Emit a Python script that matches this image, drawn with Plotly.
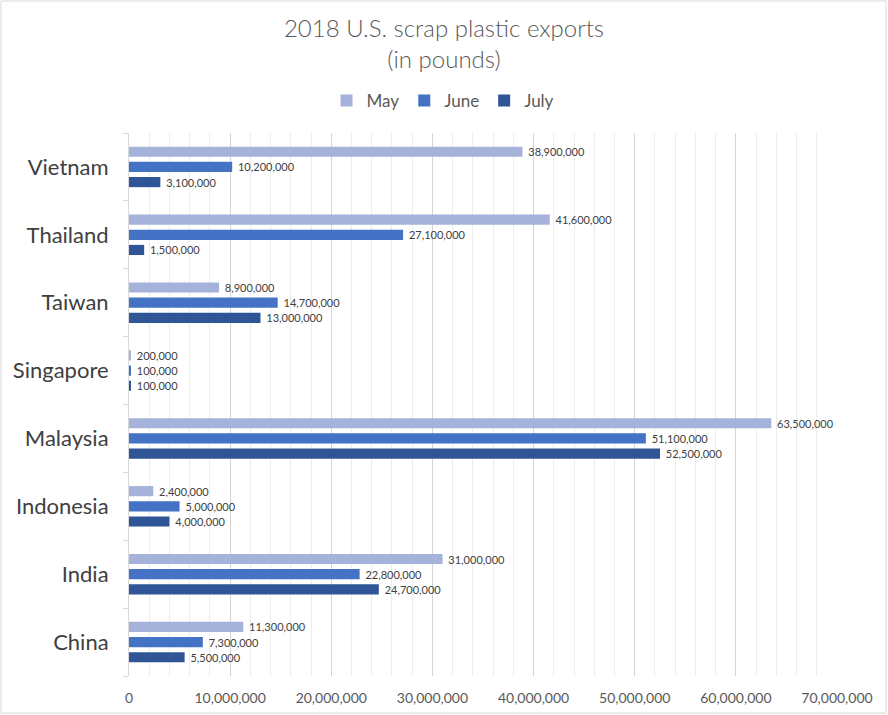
import plotly.graph_objects as go

countries = ["China", "India", "Indonesia", "Malaysia", "Singapore", "Taiwan", "Thailand", "Vietnam"]
may = [11300000, 31000000, 2400000, 63500000, 200000, 8900000, 41600000, 38900000]
june = [7300000, 22800000, 5000000, 51100000, 100000, 14700000, 27100000, 10200000]
july = [5500000, 24700000, 4000000, 52500000, 100000, 13000000, 1500000, 3100000]
x_ticks = [0, 10000000, 20000000, 30000000, 40000000, 50000000, 60000000, 70000000]

W, H = 888, 715
L, R, T, B = 129, 837, 133, 676
FONT = "Lato, Open Sans, sans-serif"

fig = go.Figure()
series = [("July", july, "#2F5597", 3), ("June", june, "#4472C4", 2), ("May", may, "#A5B3DB", 1)]
for name, vals, col, rank in series:
    fig.add_trace(go.Bar(
        y=countries, x=vals, name=name, orientation="h",
        marker=dict(color=col, line=dict(width=0)),
        text=["\u00a0" + f"{v:,}" for v in vals], textposition="outside",
        constraintext="none",
        textfont=dict(family=FONT, size=11, color="#404040"),
        cliponaxis=False, legendrank=rank,
    ))

fig.update_layout(
    width=W, height=H,
    margin=dict(l=L, r=W - R, t=T, b=H - B),
    paper_bgcolor="white", plot_bgcolor="white",
    barmode="group", bargap=0.33, bargroupgap=0.33,
    title=dict(text="2018 U.S. scrap plastic exports<br>(in pounds)",
               x=0.5, xanchor="center", y=1 - 37 / H, yanchor="middle", yref="container",
               font=dict(family=FONT, size=24, color="#595959", weight=300)),
    legend=dict(orientation="h", x=(443 - L) / (R - L), xanchor="center",
                y=(B - 101) / (B - T), yanchor="middle",
                font=dict(family=FONT, size=17, color="#595959"),
                itemwidth=30),
    showlegend=True,
    font=dict(family=FONT),
)
fig.update_xaxes(
    range=[0, 70000000], tickvals=x_ticks, ticktext=[f"{v:,}" for v in x_ticks],
    showgrid=True, gridcolor="#D4D4D4", gridwidth=1,
    minor=dict(dtick=2000000, showgrid=True, gridcolor="#EDEDED", gridwidth=1),
    zeroline=False, showline=False, ticks="",
    ticklabelstandoff=12, automargin=False,
    tickfont=dict(family=FONT, size=14, color="#595959"),
)
fig.update_yaxes(
    type="category", categoryorder="array", categoryarray=countries,
    showgrid=False, showline=True, linecolor="#D9D9D9", linewidth=1,
    ticks="outside", tickson="boundaries", ticklen=5, tickcolor="#D9D9D9",
    ticklabelstandoff=15, automargin=False,
    tickfont=dict(family=FONT, size=22, color="#404040"),
)
fig.add_shape(type="rect", xref="paper", yref="paper",
              x0=(1 - L) / (R - L), x1=(886 - L) / (R - L),
              y0=(B - 713) / (B - T), y1=(B - 1) / (B - T),
              line=dict(color="#D9D9D9", width=1), fillcolor="rgba(0,0,0,0)", layer="below")

fig.write_html("out.html", config={"displayModeBar": False},
               post_script="document.body.style.margin='0px';")
